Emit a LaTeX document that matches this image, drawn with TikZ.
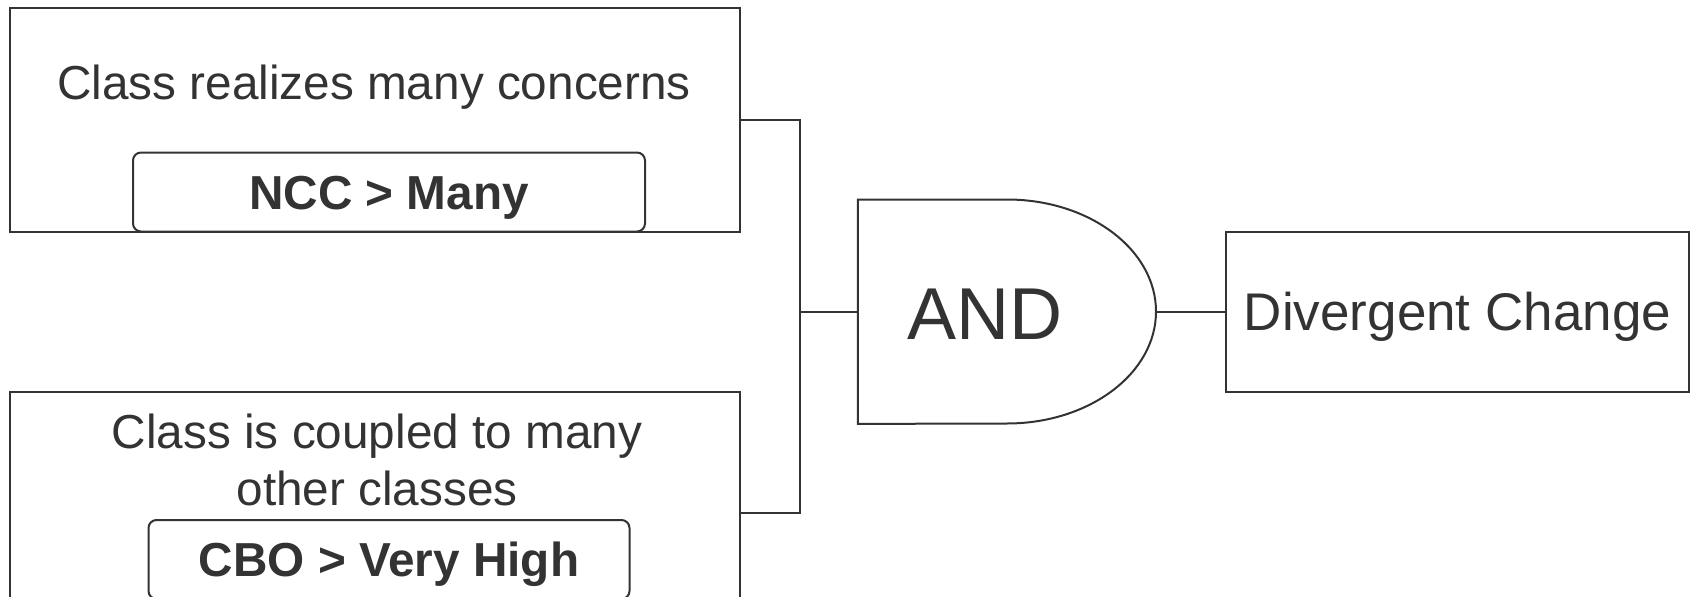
\documentclass[tikz,border=0pt]{standalone}
\usepackage{fontspec}
\setmainfont{Liberation Sans}
\definecolor{ink}{HTML}{333333}
\begin{document}
\begin{tikzpicture}[x=1pt,y=-1pt,
  every node/.style={text=ink, inner sep=0pt},
  wire/.style={draw=ink, line width=2pt},
  box/.style={draw=ink, line width=2pt},
  pill/.style={draw=ink, line width=2pt, rounded corners=8pt, fill=white,
    font=\fontsize{47.7}{56.7}\selectfont\bfseries, text height=34.2pt, text depth=0pt},
  lbl/.style={font=\fontsize{47.7}{56.7}\selectfont, align=center}]
\useasboundingbox (0,0) rectangle (1690,597);

% first condition
\node[box, minimum width=730pt, minimum height=224pt] (top) at (375,119.7) {};
\node[lbl, anchor=base] (t1) at (374,99.3) {Class realizes many concerns};
\node[pill, minimum width=512pt, minimum height=79pt] (ncc) at (389,192) {NCC > Many};

% second condition
\node[box, minimum width=730pt, minimum height=242pt] (bot) at (375,513) {};
\node[lbl, anchor=base] (t2) at (377,505) {Class is coupled to many\\other classes};
\node[pill, minimum width=481pt, minimum height=79pt] (cbo) at (389,559.5) {CBO > Very High};

% AND gate
\node[minimum width=298pt, minimum height=224pt] (gate) at (1007,311.7) {};
\draw[wire] (gate.north west) -- (gate.north)
  arc[start angle=-90, end angle=90, x radius=149, y radius=112]
  -- (gate.south west) -- cycle;
\node[font=\fontsize{73.5}{80}\selectfont, text height=52.6pt, text depth=0pt] (andtxt) at (984.6,313) {AND};

% result
\node[box, minimum width=463pt, minimum height=160pt,
  font=\fontsize{53}{60}\selectfont, text height=37.9pt, text depth=0pt] (div) at (1457.5,311.7) {Divergent Change};

% connectors
\coordinate (j) at (799.5,311.7);
\draw[wire] (top.east) -| (j);
\draw[wire] (bot.east) -| (j);
\draw[wire] (j) -- (gate.west);
\draw[wire] (gate.east) -- (div.west);
\end{tikzpicture}
\end{document}
